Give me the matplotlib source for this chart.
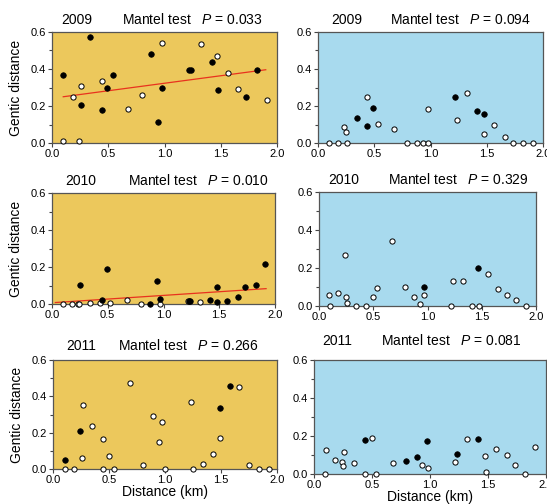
import numpy as np
import matplotlib
matplotlib.use('Agg')
import matplotlib.pyplot as plt
from matplotlib.ticker import MultipleLocator

plt.rcParams['font.family'] = ['Liberation Sans', 'DejaVu Sans']
plt.rcParams['mathtext.fontset'] = 'custom'
plt.rcParams['mathtext.rm'] = 'Liberation Sans'
plt.rcParams['mathtext.it'] = 'Liberation Sans:italic'

years = ['2009', '2010', '2011']
p_left = ['0.033', '0.010', '0.266']
p_right = ['0.094', '0.329', '0.081']

# left column (gold) -- filled / open points
l09_fx = [0.10, 0.34, 0.26, 0.44, 0.49, 0.54, 0.88, 0.975, 0.94, 1.215, 1.235, 1.42, 1.476, 1.727, 1.82]
l09_fy = [0.368, 0.575, 0.205, 0.178, 0.30, 0.368, 0.479, 0.30, 0.112, 0.393, 0.396, 0.436, 0.285, 0.25, 0.396]
l09_ox = [0.095, 0.243, 0.187, 0.255, 0.441, 0.676, 0.797, 0.978, 1.324, 1.47, 1.567, 1.656, 1.91]
l09_oy = [0.01, 0.01, 0.249, 0.308, 0.337, 0.184, 0.259, 0.539, 0.533, 0.47, 0.38, 0.29, 0.234]
l09_fit_x = [0.10, 1.90]
l09_fit_y = [0.25, 0.396]

l10_fx = [0.248, 0.496, 0.448, 0.943, 0.973, 0.88, 1.242, 1.227, 1.418, 1.478, 1.484, 1.567, 1.666, 1.731, 1.83, 1.91]
l10_fy = [0.105, 0.191, 0.022, 0.125, 0.028, 0.0, 0.018, 0.017, 0.024, 0.094, 0.013, 0.018, 0.039, 0.094, 0.105, 0.218]
l10_ox = [0.096, 0.179, 0.23, 0.245, 0.343, 0.43, 0.522, 0.672, 0.794, 0.973, 1.218, 1.325]
l10_oy = [0.0, 0.002, 0.0, 0.0, 0.007, 0.004, 0.007, 0.024, 0.002, 0.0, 0.017, 0.009]
l10_fit_x = [0.03, 1.92]
l10_fit_y = [0.008, 0.083]

l11_fx = [0.11, 0.245, 1.49, 1.58]
l11_fy = [0.048, 0.207, 0.335, 0.457]
l11_ox = [0.11, 0.19, 0.266, 0.263, 0.352, 0.45, 0.442, 0.504, 0.543, 0.687, 0.803, 0.893, 0.943,
          0.976, 0.997, 1.236, 1.248, 1.337, 1.43, 1.487, 1.663, 1.746, 1.836, 1.928]
l11_oy = [0.0, 0.0, 0.355, 0.062, 0.236, 0.166, 0.0, 0.071, 0.0, 0.472, 0.024, 0.293, 0.148,
          0.26, 0.0, 0.371, 0.0, 0.027, 0.08, 0.17, 0.452, 0.02, 0.0, 0.0]

# right column (blue)
r09_fx = [0.348, 0.434, 0.49, 1.218, 1.415, 1.477]
r09_fy = [0.134, 0.091, 0.189, 0.247, 0.174, 0.156]
r09_ox = [0.095, 0.178, 0.256, 0.232, 0.253, 0.434, 0.535, 0.678, 0.793, 0.88, 0.933, 0.978, 0.975,
          1.233, 1.322, 1.477, 1.566, 1.658, 1.73, 1.825, 1.914]
r09_oy = [0.0, 0.0, 0.0, 0.085, 0.058, 0.25, 0.105, 0.074, 0.0, 0.0, 0.0, 0.0, 0.185,
          0.127, 0.272, 0.049, 0.1, 0.031, 0.0, 0.0, 0.0]

r10_fx = [0.972, 1.465]
r10_fy = [0.102, 0.2]
r10_ox = [0.089, 0.105, 0.178, 0.237, 0.249, 0.258, 0.345, 0.437, 0.495, 0.538, 0.677, 0.794, 0.877,
          0.935, 0.969, 1.215, 1.234, 1.323, 1.412, 1.477, 1.56, 1.652, 1.729, 1.815, 1.908]
r10_oy = [0.06, 0.0, 0.068, 0.268, 0.046, 0.018, 0.0, 0.0, 0.046, 0.095, 0.34, 0.098, 0.046,
          0.011, 0.058, 0.0, 0.132, 0.13, 0.0, 0.0, 0.168, 0.089, 0.058, 0.03, 0.0]

r11_fx = [0.437, 0.794, 0.886, 0.973, 1.235, 1.413]
r11_fy = [0.181, 0.068, 0.089, 0.175, 0.107, 0.186]
r11_ox = [0.1, 0.092, 0.184, 0.242, 0.256, 0.253, 0.348, 0.44, 0.498, 0.538, 0.682, 0.929, 0.984,
          1.214, 1.318, 1.476, 1.479, 1.568, 1.663, 1.729, 1.819, 1.905]
r11_oy = [0.126, 0.0, 0.072, 0.063, 0.116, 0.044, 0.058, 0.0, 0.191, 0.0, 0.058, 0.049, 0.033,
          0.065, 0.186, 0.093, 0.012, 0.132, 0.098, 0.047, 0.0, 0.142]

W, H = 547, 504
fig = plt.figure(figsize=(W/100, H/100), dpi=100)

def px_axes(x0, y0, x1, y1):
    return fig.add_axes([x0/W, 1-y1/H, (x1-x0)/W, (y1-y0)/H])

gold = '#ecc85c'
blue = '#a8daee'

panels = [
    # rect, bg, filled, open, fit, year, p, title pos (year x, mantel x), title offset px
    ((52, 32, 277, 143), gold, (l09_fx, l09_fy), (l09_ox, l09_oy), (l09_fit_x, l09_fit_y), 0, p_left[0], 0.11, 0.31, 5),
    ((318, 32, 543, 143), blue, (r09_fx, r09_fy), (r09_ox, r09_oy), None, 0, p_right[0], 0.13, 0.32, 5),
    ((52, 193, 275, 304), gold, (l10_fx, l10_fy), (l10_ox, l10_oy), (l10_fit_x, l10_fit_y), 1, p_left[1], 0.13, 0.34, 5),
    ((319, 192, 536, 306), blue, (r10_fx, r10_fy), (r10_ox, r10_oy), None, 1, p_right[1], 0.115, 0.32, 5),
    ((53, 360, 277, 469), gold, (l11_fx, l11_fy), (l11_ox, l11_oy), None, 2, p_left[2], 0.125, 0.29, 7),
    ((314, 360, 546, 474), blue, (r11_fx, r11_fy), (r11_ox, r11_oy), None, 2, p_right[2], 0.10, 0.29, 12),
]

for i, (rect, bg, filled, opn, fit, yi, p, yx, mx, off) in enumerate(panels):
    ax = px_axes(*rect)
    ax.set_facecolor(bg)
    ax.set_xlim(0, 2.0)
    ax.set_ylim(0, 0.6)
    ax.xaxis.set_major_locator(MultipleLocator(0.5))
    ax.yaxis.set_major_locator(MultipleLocator(0.2))
    ax.yaxis.set_minor_locator(MultipleLocator(0.1))
    ax.xaxis.set_major_formatter(matplotlib.ticker.FormatStrFormatter('%.1f'))
    ax.yaxis.set_major_formatter(matplotlib.ticker.FormatStrFormatter('%.1f'))
    ax.tick_params(which='both', direction='out', length=3, width=0.8, color='#444444',
                   labelsize=8, pad=1.5)
    ax.tick_params(which='minor', length=2.5)
    for s in ax.spines.values():
        s.set_color('#555555')
        s.set_linewidth(0.9)
    if fit is not None:
        ax.plot(fit[0], fit[1], color='#e8321e', lw=0.9, zorder=2)
    ax.scatter(opn[0], opn[1], s=14, facecolor='white', edgecolor='black', linewidth=0.7,
               zorder=3, clip_on=False)
    ax.scatter(filled[0], filled[1], s=16, facecolor='black', edgecolor='black', linewidth=0.5,
               zorder=4, clip_on=False)
    tr = matplotlib.transforms.offset_copy(ax.transAxes, fig=fig, y=off*0.72, units='points')
    ax.text(yx, 1.0, years[yi], transform=tr, ha='center', va='bottom', fontsize=10)
    ax.text(mx, 1.0, 'Mantel test   $P$ = ' + p, transform=tr, ha='left', va='bottom', fontsize=10)
    if i % 2 == 0:
        ax.set_ylabel('Gentic distance', fontsize=10, labelpad=5)
    if i >= 4:
        ax.set_xlabel('Distance (km)', fontsize=10, labelpad=0)

fig.savefig('out.png', dpi=100)
